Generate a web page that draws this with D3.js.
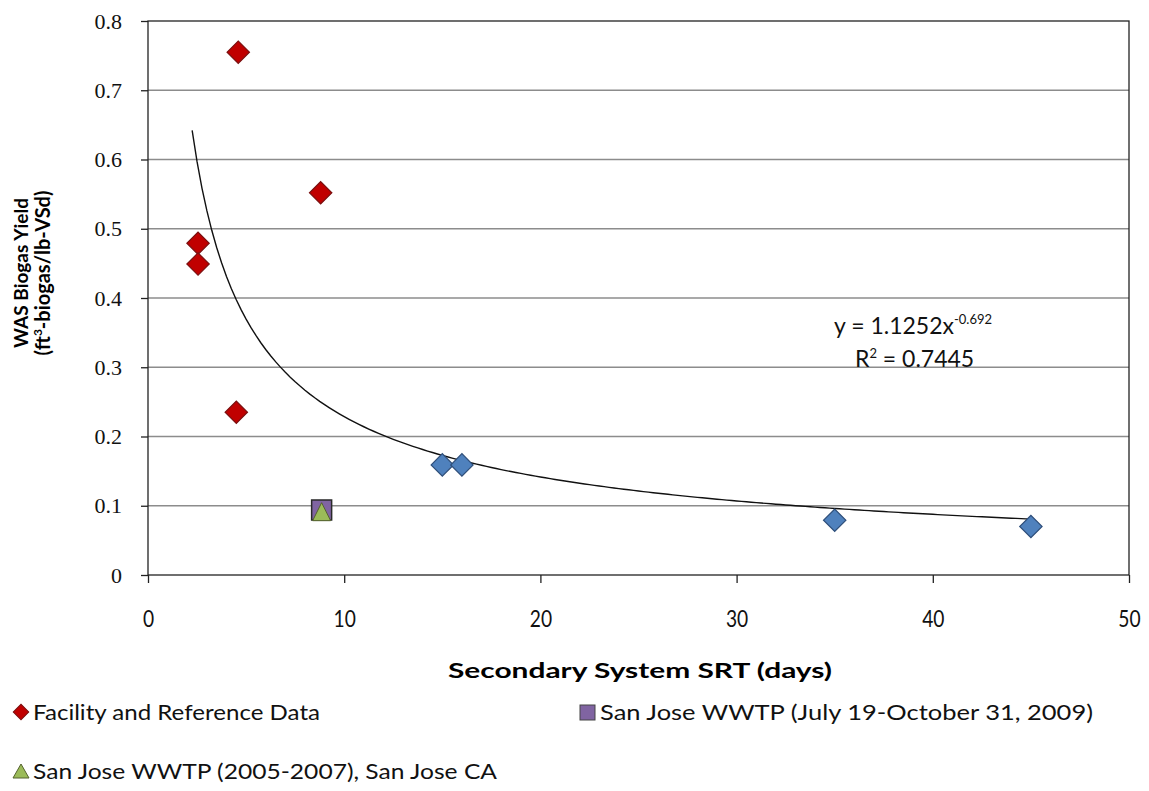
<!DOCTYPE html>
<html lang="en">
  <head>
    <meta charset="UTF-8" />
    <title>WAS Biogas Yield vs SRT</title>
    <script src="https://cdn.jsdelivr.net/npm/d3@7"></script>
  </head>
  <body style="margin:0;background:#fff">
    <svg width="1149" height="791"></svg>
    <script>
      // facility / reference data (red diamonds)
      const facilitySrt = [4.6, 8.8, 2.55, 2.55, 4.5];
      const facilityYield = [0.755, 0.552, 0.479, 0.449, 0.235];
      // blue diamonds on the curve
      const otherSrt = [15, 16, 35, 45];
      const otherYield = [0.159, 0.159, 0.079, 0.07];
      // San Jose points
      const sj2009 = { srt: 8.85, yield: 0.094 };
      const sj2005 = { srt: 8.85, yield: 0.09 };
      // power trendline shown on chart: y = a * x^b
      const trendA = 1.1252;
      const trendB = -0.692;
      const trendRange = [2.25, 45];

      const xTicks = [0, 10, 20, 30, 40, 50];
      const yTicks = [0, 0.1, 0.2, 0.3, 0.4, 0.5, 0.6, 0.7, 0.8];

      const svg = d3.select('svg');
      const plotL = 148, plotR = 1129, plotT = 21, plotB = 575;
      const sans = 'Lato, sans-serif';

      const x = d3.scaleLinear().domain([0, 50]).range([plotL, plotR]);
      const y = d3.scaleLinear().domain([0, 0.8]).range([plotB, plotT]);

      // gridlines
      svg.append('g').selectAll('line')
        .data(yTicks.slice(1, -1))
        .join('line')
        .attr('x1', plotL).attr('x2', plotR)
        .attr('y1', d => y(d)).attr('y2', d => y(d))
        .attr('stroke', '#8c8c8c').attr('stroke-width', 1.3);

      // plot border
      svg.append('rect')
        .attr('x', plotL).attr('y', plotT)
        .attr('width', plotR - plotL).attr('height', plotB - plotT)
        .attr('fill', 'none').attr('stroke', '#222').attr('stroke-width', 1.3);

      const yAxis = svg.append('g')
        .attr('transform', `translate(${plotL},0)`)
        .call(d3.axisLeft(y).tickValues(yTicks).tickSize(7).tickPadding(19)
          .tickFormat(d => d === 0 ? '0' : d3.format('.1f')(d)));
      yAxis.select('.domain').remove();
      yAxis.selectAll('line').attr('stroke', '#222').attr('stroke-width', 1.3);
      yAxis.selectAll('text')
        .attr('font-family', '"Liberation Serif", "DejaVu Serif", serif')
        .attr('font-size', 22).attr('fill', '#111');

      const xAxis = svg.append('g')
        .attr('transform', `translate(0,${plotB})`)
        .call(d3.axisBottom(x).tickValues(xTicks).tickSize(8).tickPadding(27));
      xAxis.select('.domain').remove();
      xAxis.selectAll('line').attr('stroke', '#222').attr('stroke-width', 1.3);
      xAxis.selectAll('text')
        .attr('font-family', sans)
        .attr('font-size', 24).attr('fill', '#111')
        .attr('transform', 'scale(0.8,1)');

      // axis titles
      svg.append('text')
        .attr('x', 640).attr('y', 678)
        .attr('text-anchor', 'middle')
        .attr('font-family', sans)
        .attr('font-weight', 'bold').attr('font-size', 21)
        .attr('textLength', 384).attr('lengthAdjust', 'spacingAndGlyphs')
        .text('Secondary System SRT (days)');

      const yTitle = svg.append('g')
        .attr('transform', 'translate(0,273) rotate(-90)')
        .attr('font-family', sans)
        .attr('font-weight', 'bold').attr('font-size', 19);
      yTitle.append('text').attr('x', 0).attr('y', 28)
        .attr('text-anchor', 'middle')
        .attr('textLength', 150).attr('lengthAdjust', 'spacingAndGlyphs')
        .text('WAS Biogas Yield');
      const t2 = yTitle.append('text').attr('x', 0).attr('y', 50)
        .attr('text-anchor', 'middle').attr('font-size', 20);
      t2.append('tspan').text('(ft');
      t2.append('tspan').attr('font-size', 12).attr('dy', -8).text('3');
      t2.append('tspan').attr('dy', 8).text('-biogas/lb-VSd)');

      // trendline
      const trendX = d3.range(trendRange[0], trendRange[1] + 0.01, 0.25);
      const line = d3.line()
        .x(d => x(d))
        .y(d => y(trendA * Math.pow(d, trendB)));
      svg.append('path')
        .attr('d', line(trendX))
        .attr('fill', 'none').attr('stroke', '#111').attr('stroke-width', 1.4);

      const diamond = d3.symbol().type(d3.symbolSquare).size(250);

      function diamonds(xs, ys, fill, stroke) {
        svg.append('g').selectAll('path')
          .data(xs.map((d, i) => [d, ys[i]]))
          .join('path')
          .attr('d', diamond)
          .attr('transform', d => `translate(${x(d[0])},${y(d[1])}) rotate(45)`)
          .attr('fill', fill).attr('stroke', stroke).attr('stroke-width', 1.2);
      }
      diamonds(facilitySrt, facilityYield, '#c00000', '#7a1010');
      diamonds(otherSrt, otherYield, '#4f81bd', '#2f4f7a');

      // San Jose square + triangle
      svg.append('path')
        .attr('d', d3.symbol().type(d3.symbolSquare).size(400))
        .attr('transform', `translate(${x(sj2009.srt)},${y(sj2009.yield)})`)
        .attr('fill', '#8064a2').attr('stroke', '#2a2a2a').attr('stroke-width', 1.5);
      svg.append('path')
        .attr('d', 'M0,-10L9,8L-9,8Z')
        .attr('transform', `translate(${x(sj2005.srt)},${y(sj2005.yield)})`)
        .attr('fill', '#9bbb59').attr('stroke', '#55622e').attr('stroke-width', 1);

      // equation
      const eq = svg.append('text')
        .attr('font-family', sans)
        .attr('font-size', 23).attr('fill', '#111');
      eq.append('tspan').attr('x', 834).attr('y', 334).text('y = 1.1252x');
      eq.append('tspan').attr('font-size', 13).attr('dy', -10).text('-0.692');
      const r2 = svg.append('text')
        .attr('font-family', sans)
        .attr('font-size', 23).attr('fill', '#111');
      r2.append('tspan').attr('x', 855).attr('y', 367).text('R');
      r2.append('tspan').attr('font-size', 13).attr('dy', -9).text('2');
      r2.append('tspan').attr('dy', 9).text(' = 0.7445');

      // legend
      const lg = svg.append('g').attr('font-family', sans).attr('font-size', 22).attr('fill', '#111');
      lg.append('path').attr('d', d3.symbol().type(d3.symbolSquare).size(120))
        .attr('transform', 'translate(21,712) rotate(45)')
        .attr('fill', '#c00000').attr('stroke', '#7a1010');
      lg.append('text').attr('x', 33).attr('y', 720)
        .attr('textLength', 287).attr('lengthAdjust', 'spacingAndGlyphs')
        .text('Facility and Reference Data');
      lg.append('rect').attr('x', 580).attr('y', 705).attr('width', 15).attr('height', 15)
        .attr('fill', '#8064a2').attr('stroke', '#444');
      lg.append('text').attr('x', 600).attr('y', 720)
        .attr('textLength', 493).attr('lengthAdjust', 'spacingAndGlyphs')
        .text('San Jose WWTP (July 19-October 31, 2009)');
      lg.append('path').attr('d', 'M21,764L29,778L13,778Z')
        .attr('fill', '#9bbb59').attr('stroke', '#55622e');
      lg.append('text').attr('x', 33).attr('y', 779)
        .attr('textLength', 464).attr('lengthAdjust', 'spacingAndGlyphs')
        .text('San Jose WWTP (2005-2007), San Jose CA');
    </script>
  </body>
</html>
